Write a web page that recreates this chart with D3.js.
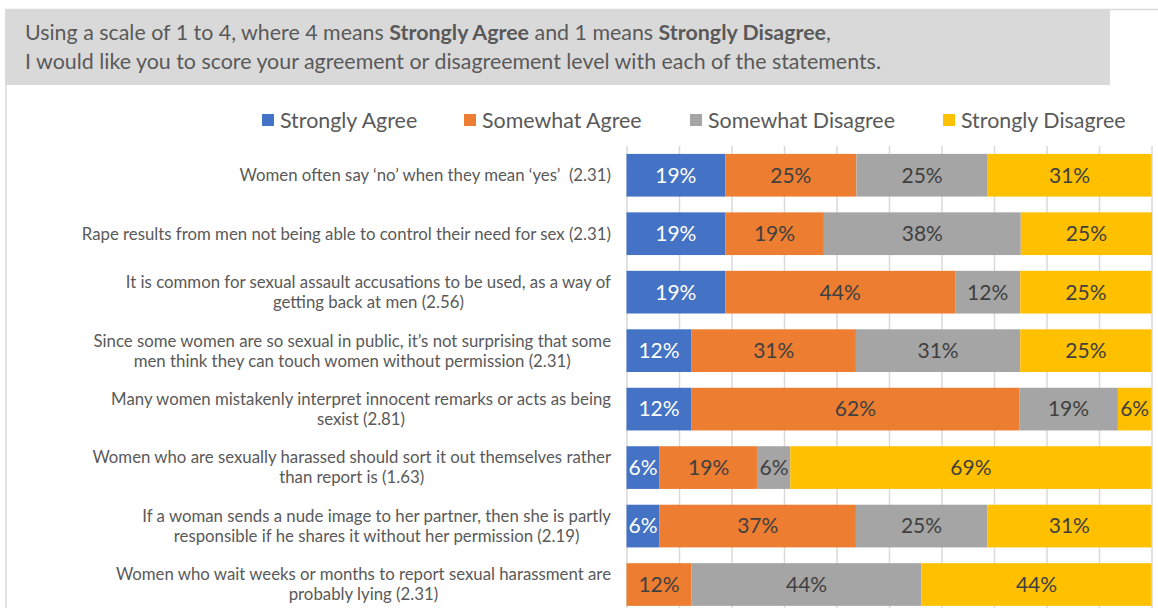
<!DOCTYPE html>
<html>
<head>
<meta charset="utf-8">
<script src="https://cdn.jsdelivr.net/npm/d3@7"></script>
<style>
  body { margin: 0; background: #fff; }
  svg { display: block; font-family: Lato, "Open Sans", sans-serif; }
</style>
</head>
<body>
<svg width="1158" height="608"></svg>
<script>
// statements (already split into the lines as wrapped in the original)
var categories = [
    ["Women often say \u2018no\u2019 when they mean \u2018yes\u2019  (2.31)"],
    ["Rape results from men not being able to control their need for sex (2.31)"],
    ["It is common for sexual assault accusations to be used, as a way of", "getting back at men (2.56)"],
    ["Since some women are so sexual in public, it\u2019s not surprising that some", "men think they can touch women without permission (2.31)"],
    ["Many women mistakenly interpret innocent remarks or acts as being", "sexist (2.81)"],
    ["Women who are sexually harassed should sort it out themselves rather", "than report is (1.63)"],
    ["If a woman sends a nude image to her partner, then she is partly", "responsible if he shares it without her permission (2.19)"],
    ["Women who wait weeks or months to report sexual harassment are", "probably lying (2.31)"]
];
var seriesNames = ["Strongly Agree", "Somewhat Agree", "Somewhat Disagree", "Strongly Disagree"];
var colors = ["#4472C4", "#ED7D31", "#A5A5A5", "#FFC000"];

// percentages
var stronglyAgree     = [18.8, 18.8, 18.8, 12.4, 12.4, 6.3, 6.3, 0];
var somewhatAgree     = [25, 18.8, 43.8, 31.3, 62.4, 18.7, 37.4, 12.4];
var somewhatDisagree  = [25, 37.5, 12.4, 31.3, 18.8, 6.2, 25, 43.8];
var stronglyDisagree  = [31.2, 25, 25, 25, 6.4, 68.8, 31.3, 43.8];

var gridTicks = d3.range(0, 101, 10);

var rows = categories.map(function(c, i) {
    return {
        idx: i,
        "Strongly Agree": stronglyAgree[i],
        "Somewhat Agree": somewhatAgree[i],
        "Somewhat Disagree": somewhatDisagree[i],
        "Strongly Disagree": stronglyDisagree[i]
    };
});

var width = 1158, height = 608;
var svg = d3.select('svg');

// chart border (left + top) and title box
svg.append('path')
    .attr('d', 'M6,620 V9.5 H1160')
    .attr('fill', 'none')
    .attr('stroke', '#d9d9d9')
    .attr('stroke-width', 1.5);

svg.append('rect')
    .attr('x', 5).attr('y', 9)
    .attr('width', 1105).attr('height', 76)
    .attr('fill', '#d9d9d9');

var title = svg.append('text')
    .attr('fill', '#595959')
    .attr('font-size', 21.4);
var t1 = title.append('tspan').attr('x', 25).attr('y', 40);
t1.append('tspan').text('Using a scale of 1 to 4, where 4 means ');
t1.append('tspan').attr('font-weight', 'bold').text('Strongly Agree');
t1.append('tspan').text(' and 1 means ');
t1.append('tspan').attr('font-weight', 'bold').text('Strongly Disagree');
t1.append('tspan').text(',');
title.append('tspan').attr('x', 25).attr('y', 69)
    .text('I would like you to score your agreement or disagreement level with each of the statements.');

// scales
var xScale = d3.scaleLinear()
    .domain([0, 100])
    .range([626.5, 1151.5]);
var yScale = d3.scaleBand()
    .domain(d3.range(categories.length))
    .range([146, 146 + 8 * 58.47])
    .paddingInner(0.27)
    .paddingOuter(0.135);

// gridlines
var grid = d3.axisBottom(xScale)
    .tickValues(gridTicks)
    .tickSize(-(height + 10 - 146))
    .tickFormat('');
svg.append('g')
    .attr('transform', 'translate(0,' + (height + 10) + ')')
    .call(grid)
    .call(function(g) { g.select('.domain').remove(); })
    .selectAll('line')
    .attr('stroke', '#d9d9d9')
    .attr('stroke-width', 1.5);

// stacked bars
var stack = d3.stack().keys(seriesNames);
var layers = stack(rows);

var layer = svg.selectAll('g.layer')
    .data(layers)
    .enter().append('g')
    .attr('class', 'layer')
    .attr('fill', function(d, i) { return colors[i]; });

layer.selectAll('rect')
    .data(function(d) { return d; })
    .enter().append('rect')
    .attr('x', function(d) { return xScale(d[0]); })
    .attr('y', function(d) { return yScale(d.data.idx); })
    .attr('width', function(d) { return xScale(d[1]) - xScale(d[0]); })
    .attr('height', yScale.bandwidth());

layers.forEach(function(L, li) {
    var key = L.key;
    svg.append('g').selectAll('text')
        .data(L.filter(function(d) { return d.data[key] > 0; }))
        .enter().append('text')
        .attr('x', function(d) { return (xScale(d[0]) + xScale(d[1])) / 2; })
        .attr('y', function(d) { return yScale(d.data.idx) + yScale.bandwidth() / 2; })
        .attr('dy', '0.35em')
        .attr('text-anchor', 'middle')
        .attr('font-size', 21)
        .attr('fill', li === 0 ? '#ffffff' : '#404040')
        .text(function(d) { return Math.round(d.data[key]) + '%'; });
});

// category labels, right aligned block with centred lines
var labelRight = 611;
categories.forEach(function(lines, i) {
    var g = svg.append('g');
    var cy = yScale(i) + yScale.bandwidth() / 2;
    var texts = lines.map(function(line, j) {
        return g.append('text')
            .attr('y', cy + (j - (lines.length - 1) / 2) * 20)
            .attr('dy', '0.35em')
            .attr('text-anchor', 'middle')
            .attr('font-size', 16.8)
            .attr('fill', '#595959')
            .style('white-space', 'pre')
            .text(line);
    });
    var w = d3.max(texts, function(t) { return t.node().getComputedTextLength(); });
    texts.forEach(function(t) { t.attr('x', labelRight - w / 2); });
});

// legend
var legendX = [262, 464, 690, 943];
var legend = svg.selectAll('g.legend')
    .data(seriesNames)
    .enter().append('g')
    .attr('class', 'legend')
    .attr('transform', function(d, i) { return 'translate(' + legendX[i] + ',120)'; });
legend.append('rect')
    .attr('x', 0).attr('y', -6)
    .attr('width', 12).attr('height', 12)
    .attr('fill', function(d, i) { return colors[i]; });
legend.append('text')
    .attr('x', 18)
    .attr('dy', '0.35em')
    .attr('font-size', 21.4)
    .attr('fill', '#595959')
    .text(function(d) { return d; });
</script>
</body>
</html>
